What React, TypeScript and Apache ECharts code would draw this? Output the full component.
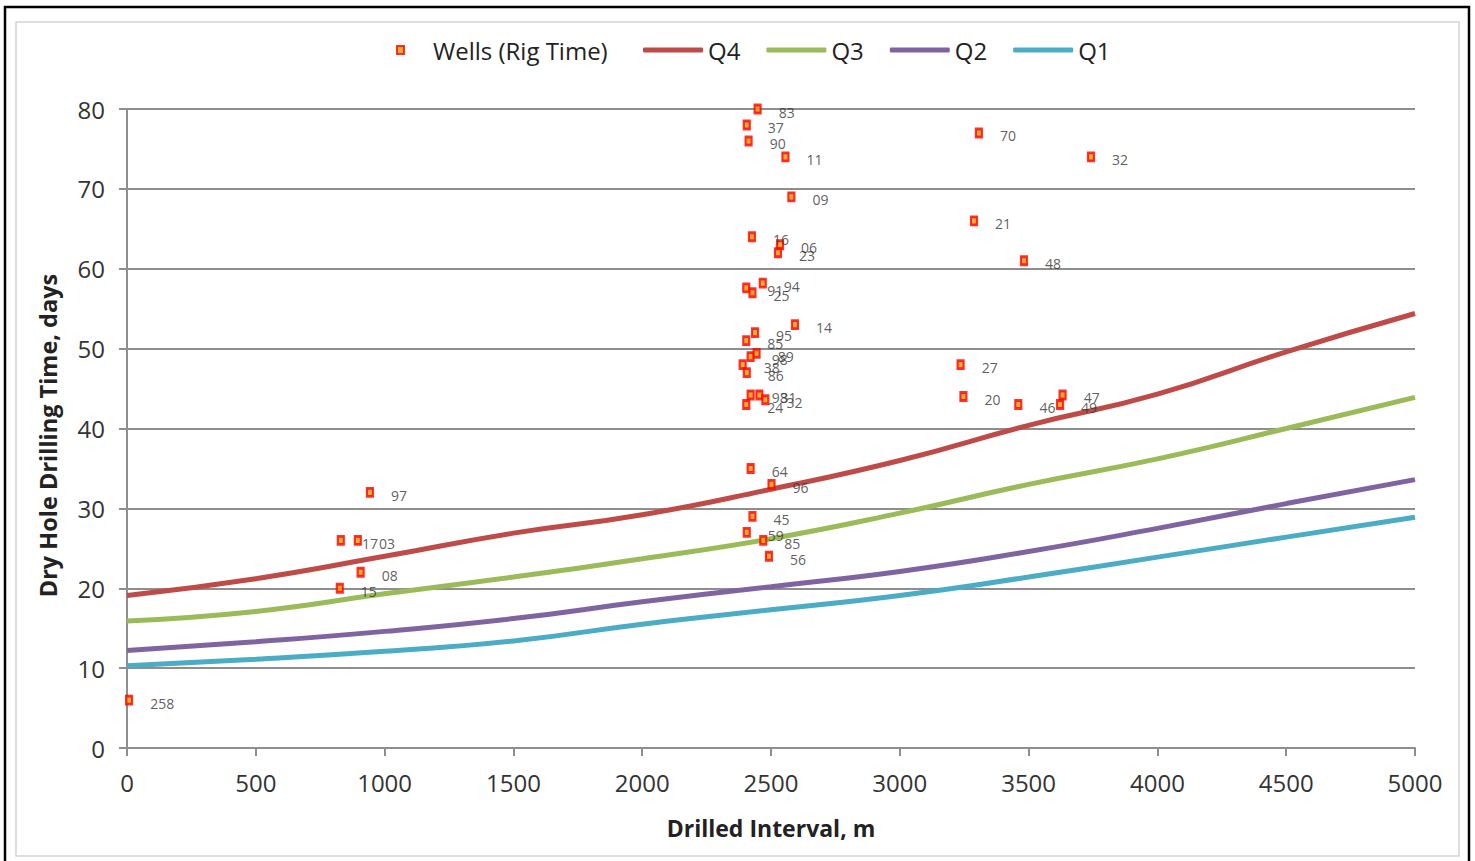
import React, { useEffect, useRef } from "react";
import * as echarts from "echarts";

// ---- data ----
const wellX = [2448, 2406, 2413, 2556, 2579, 2426, 2535, 2527, 2404, 2428, 2468, 2593, 2438, 2404, 2421, 2444, 2390, 2406, 2421, 2455, 2478, 2404, 2421, 2502, 2428, 2406, 2470, 2492, 943, 830, 896, 907, 826, 3236, 3247, 3460, 3632, 3622, 3307, 3742, 3288, 3482, 8];
const wellY = [80, 78, 76, 74, 69, 64, 63, 62, 57.6, 57, 58.2, 53, 52, 51, 49, 49.4, 48, 47, 44.2, 44.2, 43.6, 43, 35, 33, 29, 27, 26, 24, 32, 26, 26, 22, 20, 48, 44, 43, 44.2, 43, 77, 74, 66, 61, 6];
const wellLabel = ["83", "37", "90", "11", "09", "16", "06", "23", "91", "25", "94", "14", "95", "85", "98", "89", "38", "86", "98", "31", "32", "24", "64", "96", "45", "59", "85", "56", "97", "17", "03", "08", "15", "27", "20", "46", "47", "49", "70", "32", "21", "48", "258"];

const curveX = [0, 500, 1000, 1500, 2000, 2500, 3000, 3500, 4000, 4500, 5000];
const q4 = [19.1, 21.2, 24.0, 26.9, 29.2, 32.4, 36.0, 40.4, 44.3, 49.6, 54.4];
const q3 = [15.9, 17.1, 19.3, 21.4, 23.7, 26.2, 29.4, 33.0, 36.2, 40.0, 43.9];
const q2 = [12.2, 13.3, 14.6, 16.2, 18.3, 20.2, 22.1, 24.6, 27.5, 30.6, 33.6];
const q1 = [10.3, 11.1, 12.1, 13.4, 15.5, 17.3, 19.1, 21.4, 23.9, 26.4, 28.9];

const xTicks = { min: 0, max: 5000, interval: 500 };
const yTicks = { min: 0, max: 80, interval: 10 };

const FONT = "'Open Sans', 'Liberation Sans', sans-serif";
const GRID_GRAY = "#8e8e8e";

export default function App() {
  const ref = useRef<HTMLDivElement>(null);
  useEffect(() => {
    if (!ref.current) return;
    const chart = echarts.init(ref.current, null, { renderer: "svg" });
    const lineSeries = (name: string, vals: number[], color: string) => ({
      name,
      type: "line",
      data: curveX.map((x, i) => [x, vals[i]]),
      smooth: true,
      showSymbol: false,
      symbol: "none",
      lineStyle: { color, width: 5 },
      itemStyle: { color },
      z: 2,
    });
    chart.setOption({
      animation: false,
      backgroundColor: "#ffffff",
      graphic: [
        { type: "rect", silent: true, shape: { x: 5, y: 7, width: 1464, height: 870 }, style: { fill: "none", stroke: "#000", lineWidth: 2.5 } },
        { type: "rect", silent: true, shape: { x: 16, y: 22, width: 1443, height: 834 }, style: { fill: "none", stroke: "#d4d4d4", lineWidth: 1.5 } },
      ],
      legend: [
        {
          data: ["Wells (Rig Time)"],
          left: 396,
          top: 38,
          padding: 0,
          itemWidth: 7,
          itemHeight: 8,
          icon: "rect",
          textStyle: { fontSize: 24, fontFamily: FONT, color: "#222", padding: [0, 0, 0, 24] },
        },
        {
          data: ["Q4", "Q3", "Q2", "Q1"],
          left: 643,
          top: 38,
          padding: 0,
          itemWidth: 60,
          itemHeight: 5,
          itemGap: 26,
          icon: "roundRect",
          textStyle: { fontSize: 24, fontFamily: FONT, color: "#222" },
        },
      ],
      grid: { left: 127, top: 109, width: 1288, height: 639, containLabel: false },
      xAxis: {
        type: "value",
        ...xTicks,
        name: "Drilled Interval, m",
        nameLocation: "middle",
        nameGap: 68,
        nameTextStyle: { fontSize: 23, fontWeight: "bold", fontFamily: FONT, color: "#222" },
        axisLine: { show: true, lineStyle: { color: GRID_GRAY, width: 2 } },
        axisTick: { show: true, inside: false, length: 8, lineStyle: { color: GRID_GRAY, width: 2 } },
        axisLabel: { fontSize: 24, fontFamily: FONT, color: "#333", margin: 22, formatter: (v: number) => String(v) },
        splitLine: { show: false },
      },
      yAxis: {
        type: "value",
        ...yTicks,
        name: "Dry Hole Drilling Time, days",
        nameLocation: "middle",
        nameGap: 67,
        nameTextStyle: { fontSize: 23.5, fontWeight: "bold", fontFamily: FONT, color: "#222", padding: [0, 14, 0, 0] },
        axisLine: { show: true, lineStyle: { color: GRID_GRAY, width: 2 } },
        axisTick: { show: true, inside: false, length: 8, lineStyle: { color: GRID_GRAY, width: 2 } },
        axisLabel: { fontSize: 24, fontFamily: FONT, color: "#333", margin: 22 },
        splitLine: { show: true, lineStyle: { color: GRID_GRAY, width: 2 } },
      },
      series: [
        {
          name: "Wells (Rig Time)",
          type: "scatter",
          data: wellX.map((x, i) => [x, wellY[i]]),
          symbol: "rect",
          symbolSize: [6, 8],
          itemStyle: { color: "#ff9900", borderColor: "#ff0000", borderWidth: 2.5 },
          label: {
            show: true,
            position: "right",
            distance: 17,
            offset: [0, 3],
            formatter: (p: any) => wellLabel[p.dataIndex],
            fontSize: 14,
            fontFamily: FONT,
            color: "#333",
          },
          z: 5,
        },
        lineSeries("Q4", q4, "#BE4B48"),
        lineSeries("Q3", q3, "#9BBB59"),
        lineSeries("Q2", q2, "#8064A2"),
        lineSeries("Q1", q1, "#4BACC6"),
      ],
    });
    return () => chart.dispose();
  }, []);
  return (
    <div
      ref={ref}
      style={{ position: "fixed", left: 0, top: 0, width: 1475, height: 861, background: "#fff" }}
    />
  );
}
